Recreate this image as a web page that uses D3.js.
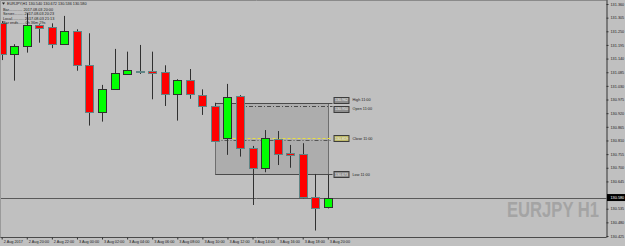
<!DOCTYPE html>
<html><head><meta charset="utf-8">
<script src="https://cdn.jsdelivr.net/npm/d3@7"></script>
<style>
html,body{margin:0;padding:0;background:#c0c0c0;overflow:hidden}
svg{display:block}
text{font-family:"Liberation Sans",Arial,sans-serif}
</style></head>
<body>
<script>
// ---- data ----
const bars = ["2 Aug 18:00","2 Aug 19:00","2 Aug 20:00","2 Aug 21:00","2 Aug 22:00","2 Aug 23:00",
  "3 Aug 00:00","3 Aug 01:00","3 Aug 02:00","3 Aug 03:00","3 Aug 04:00","3 Aug 05:00","3 Aug 06:00",
  "3 Aug 07:00","3 Aug 08:00","3 Aug 09:00","3 Aug 10:00","3 Aug 11:00","3 Aug 12:00","3 Aug 13:00",
  "3 Aug 14:00","3 Aug 15:00","3 Aug 16:00","3 Aug 17:00","3 Aug 18:00","3 Aug 19:00","3 Aug 20:00"];
const opens  = [131.285,131.159,131.191,131.274,131.266,131.198,131.252,131.113,130.926,131.016,131.079,131.091,131.090,131.087,130.999,131.054,130.993,130.950,130.819,130.989,130.779,130.700,130.816,130.761,130.756,130.581,130.540];
const highs  = [131.291,131.198,131.323,131.278,131.282,131.312,131.258,131.242,131.034,131.179,131.168,131.195,131.168,131.113,131.057,131.098,131.016,130.962,131.038,130.993,130.788,130.852,130.848,130.792,130.799,130.675,130.672];
const lows   = [131.134,131.051,131.164,131.204,131.182,131.197,131.091,130.870,130.886,131.015,131.078,131.078,130.976,130.949,130.890,130.978,130.913,130.804,130.752,130.745,130.550,130.682,130.711,130.700,130.577,130.447,130.536];
const closes = [131.159,131.191,131.275,131.262,131.199,131.250,131.114,130.924,131.018,131.081,131.093,131.086,131.083,130.999,131.054,130.996,130.949,130.808,130.986,130.779,130.698,130.819,130.757,130.753,130.581,130.539,130.580];
const timeTickIdx = [0,2,4,6,8,10,12,14,16,18,20,22,24,26];
const timeTickLabels = ["2 Aug 2017","2 Aug 20:00","2 Aug 22:00","3 Aug 00:00","3 Aug 02:00","3 Aug 04:00","3 Aug 06:00","3 Aug 08:00","3 Aug 10:00","3 Aug 12:00","3 Aug 14:00","3 Aug 16:00","3 Aug 18:00","3 Aug 20:00"];
const priceTicks = [131.360,131.305,131.250,131.195,131.140,131.085,131.030,130.975,130.920,130.865,130.810,130.755,130.700,130.645,130.535,130.480,130.425];
const lastPrice = 130.580;
const boxStart = 17, boxEnd = 26;
const levelNames = ["High 11:00","Open 11:00","Close 11:00","Low 11:00"];
const levelValues = [130.962,130.950,130.819,130.673];
const headerLines = ["EURJPY,H1  130.540 130.672 130.536 130.580","Bar............. 2017.08.03 20:00","Server......... 2017.08.03 20:23","Local........... 2017.08.03 21:13","Bar ends...... 0h 36m 29s"];

// ---- layout ----
const W = 625, H = 246;
const plotR = 606.5, plotB = 237.5;
const svg = d3.select("body").append("svg").attr("width",W).attr("height",H);
svg.append("rect").attr("width",W).attr("height",H).attr("fill","#c0c0c0");

const x = d3.scaleLinear().domain([0,26]).range([1.7,327.8]);
const y = d3.scaleLinear().domain([130.425,131.360]).range([236,4]);
const px = v => Math.round(x(v)) + 0.5;

// session rectangle
const bx0 = px(boxStart), bx1 = px(boxEnd);
svg.append("rect").attr("x",bx0).attr("y",Math.round(y(levelValues[0]))+0.5)
  .attr("width",bx1-bx0).attr("height",Math.round(y(levelValues[3]))-Math.round(y(levelValues[0])))
  .attr("fill","#adadad").attr("stroke","#6e6e6e").attr("stroke-width",1);

// bid line
svg.append("line").attr("x1",0).attr("x2",plotR).attr("y1",Math.round(y(lastPrice))+0.5).attr("y2",Math.round(y(lastPrice))+0.5)
  .attr("stroke","#5a5a5a").attr("stroke-width",1);

// level lines
const lvlEnd = bx1 + 4;
const lvlStyles = [
  {c:"#4a4a4a",d:null,x0:bx0},
  {c:"#4a4a4a",d:"4,2,1,2",x0:x(19)},
  {c:"#e8e040",d:"3,2",x0:bx0-3},
  {c:"#4a4a4a",d:null,x0:bx0}];
levelValues.forEach((v,i)=>{
  const yy = Math.round(y(v))+0.5;
  svg.append("line").attr("x1",lvlStyles[i].x0).attr("x2",lvlEnd).attr("y1",yy).attr("y2",yy)
    .attr("stroke",lvlStyles[i].c).attr("stroke-width",1).attr("stroke-dasharray",lvlStyles[i].d);
});
svg.append("line").attr("x1",bx0).attr("x2",lvlEnd).attr("y1",Math.round(y(levelValues[2]))+2.5).attr("y2",Math.round(y(levelValues[2]))+2.5)
  .attr("stroke","#555").attr("stroke-dasharray","4,2,1,2");

// candles
const g = svg.append("g");
bars.forEach((b,i)=>{
  const cx = px(i);
  const up = closes[i] >= opens[i];
  g.append("line").attr("x1",cx).attr("x2",cx).attr("y1",y(highs[i])).attr("y2",y(lows[i]))
    .attr("stroke","#303030").attr("stroke-width",1);
  const top = Math.round(y(Math.max(opens[i],closes[i])));
  const bot = Math.round(y(Math.min(opens[i],closes[i])));
  g.append("rect").attr("x",cx-4).attr("y",top+0.5).attr("width",8).attr("height",Math.max(1,bot-top))
    .attr("fill",up?"#00ff00":"#ff0000").attr("stroke",up?"#2f2f2f":"#5f8585").attr("stroke-width",1);
});

// level label boxes
const lblX = lvlEnd + 1;
levelValues.forEach((v,i)=>{
  let yy = y(v);
  if(i===0) yy -= 3;
  if(i===1) yy += 3;
  svg.append("rect").attr("x",lblX+0.5).attr("y",Math.round(yy-3)+0.5).attr("width",15).attr("height",6)
    .attr("fill",i===2?"#bdb86a":"#8e8e8e").attr("stroke","#3c3c3c").attr("stroke-width",1);
  svg.append("text").attr("x",lblX+8).attr("y",yy+1.6).attr("text-anchor","middle")
    .attr("font-size",3.6).attr("fill","#f4f4f4").text(d3.format(".3f")(v));
  svg.append("text").attr("x",lblX+19).attr("y",yy+1.5).attr("font-size",3.8)
    .attr("fill","#222").text(levelNames[i]);
});

// frame
svg.append("line").attr("x1",0).attr("x2",plotR).attr("y1",0.5).attr("y2",0.5).attr("stroke","#8a8a8a");
svg.append("line").attr("x1",0).attr("x2",plotR).attr("y1",plotB).attr("y2",plotB).attr("stroke","#4a4a4a");
svg.append("line").attr("x1",0.5).attr("x2",0.5).attr("y1",0).attr("y2",plotB).attr("stroke","#9a9a9a");

// watermark
svg.append("text").attr("x",507).attr("y",217).attr("font-size",22).attr("font-weight","bold")
  .attr("font-family","'Liberation Sans Narrow','DejaVu Sans Condensed','Roboto Condensed',sans-serif")
  .attr("font-stretch","condensed").attr("textLength",92).attr("lengthAdjust","spacingAndGlyphs")
  .attr("fill","#a4a4a4").text("EURJPY H1");

// right axis
const ya = svg.append("g").attr("transform",`translate(${plotR},0)`)
  .call(d3.axisRight(y).tickValues(priceTicks).tickFormat(d3.format(".3f")).tickSize(2).tickPadding(2));
ya.select(".domain").attr("stroke","#333").attr("d","M0.5,0V"+plotB);
ya.selectAll(".tick line").attr("stroke","#333");
ya.selectAll(".tick text").attr("font-size",3.8).attr("fill","#222").attr("font-family","Liberation Sans, Arial, sans-serif");

// current price tag
const cy = y(lastPrice);
svg.append("rect").attr("x",plotR+0.5).attr("y",cy-3.5).attr("width",W-plotR).attr("height",7).attr("fill","#000");
svg.append("text").attr("x",plotR+4).attr("y",cy+1.5).attr("font-size",3.8).attr("fill","#fff").text(d3.format(".3f")(lastPrice));

// bottom axis
const xa = svg.append("g").attr("transform",`translate(0,${plotB})`)
  .call(d3.axisBottom(x).tickValues(timeTickIdx).tickFormat((d,k)=>timeTickLabels[k]).tickSize(2).tickPadding(1));
xa.select(".domain").remove();
xa.selectAll(".tick line").attr("stroke","#333");
xa.selectAll(".tick text").attr("text-anchor","start").attr("dx",1.5).attr("font-size",3.8).attr("fill","#222")
  .attr("font-family","Liberation Sans, Arial, sans-serif");

// header info
svg.append("path").attr("d","M2,2.5 L5,2.5 L3.5,4.8 Z").attr("fill","#222");
headerLines.forEach((t,i)=>{
  svg.append("text").attr("x",i===0?7:3).attr("y",[5,10.5,15,19.5,24][i]).attr("font-size",3.8)
    .attr("fill","#222").text(t);
});
</script>
</body></html>
